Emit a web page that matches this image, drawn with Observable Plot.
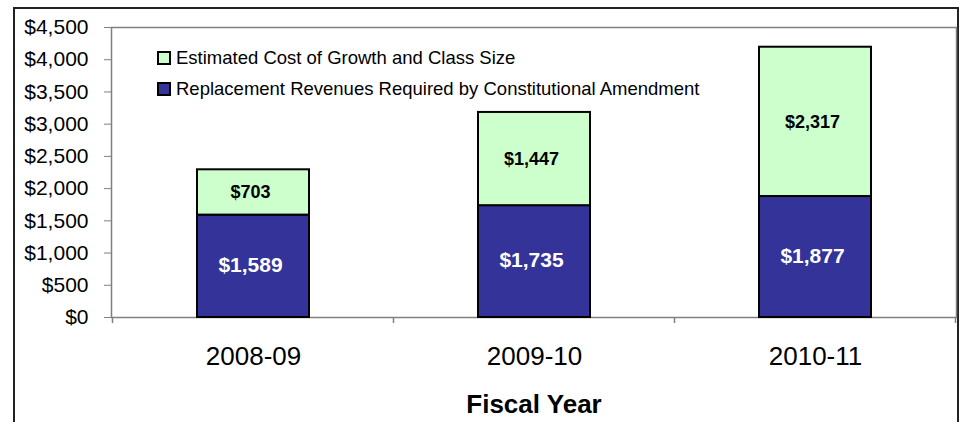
<!DOCTYPE html>
<html><head><meta charset="utf-8">
<script src="https://cdn.jsdelivr.net/npm/d3@7"></script>
<script src="https://cdn.jsdelivr.net/npm/@observablehq/plot@0.6"></script>
<style>
html,body{margin:0;padding:0;background:#fff;overflow:hidden;}
#wrap{position:relative;width:959px;height:422px;overflow:hidden;font-family:"Liberation Sans",Arial,sans-serif;}
#border{position:absolute;left:13px;top:7px;width:942px;height:440px;border:2px solid #222;pointer-events:none;}
#chart{position:absolute;left:0;top:0;}
#legend{position:absolute;left:157px;top:42px;font-size:18.5px;line-height:31px;color:#000;white-space:nowrap;}
.sw{display:inline-block;width:10px;height:10px;border:2px solid #000;margin-right:5px;vertical-align:-1px;}
g[aria-label="x-axis label"] text{font-weight:bold;}
</style></head><body>
<div id="wrap"><div id="border"></div><div id="chart"></div><div id="legend"></div></div>
<script>
const years = ["2008-09", "2009-10", "2010-11"];
const replacement = [1589, 1735, 1877];
const growth = [703, 1447, 2317];
const seriesNames = ["Replacement Revenues Required by Constitutional Amendment", "Estimated Cost of Growth and Class Size"];
const seriesColors = ["#333399", "#CCFFCC"];
const yTicks = [0, 500, 1000, 1500, 2000, 2500, 3000, 3500, 4000, 4500];
const legendOrder = [1, 0];

const rows = [];
years.forEach((y, i) => {
  rows.push({year: y, series: seriesNames[0], value: replacement[i]});
  rows.push({year: y, series: seriesNames[1], value: growth[i]});
});
const fmt = d3.format("$,");

const stackOpts = (extra) => Plot.stackY({x: "year", y: "value", z: "series", order: seriesNames, ...extra});

const plot = Plot.plot({
  width: 959, height: 422,
  marginLeft: 111, marginRight: 3, marginTop: 27, marginBottom: 105,
  style: {fontFamily: '"Liberation Sans", Arial, sans-serif', fontSize: "21px", color: "#000", background: "transparent", overflow: "visible"},
  x: {domain: years, paddingInner: 0.603, paddingOuter: 0.3},
  y: {domain: [0, 4500]},
  color: {domain: seriesNames, range: seriesColors},
  marks: [
    Plot.frame({stroke: "#808080", strokeWidth: 1.5}),
    Plot.barY(rows, Plot.stackY({x: "year", y: "value", fill: "series", order: seriesNames, stroke: "#000", strokeWidth: 2})),
    Plot.text(rows, Plot.filter(d => d.series === seriesNames[0], stackOpts({text: d => fmt(d.value), fill: "#fff", fontWeight: "bold", fontSize: 21, dx: -3, dy: -1}))),
    Plot.text(rows, Plot.filter(d => d.series === seriesNames[1], stackOpts({text: d => fmt(d.value), fill: "#000", fontWeight: "bold", fontSize: 18, dx: -3}))),
    Plot.axisY({ticks: yTicks, tickFormat: fmt, tickSize: 7, tickPadding: 16, stroke: "#808080", fill: "#000", fontSize: 21, label: null}),
    Plot.axisX({tickSize: 0, tickPadding: 29, fontSize: 26, fill: "#000", label: "Fiscal Year", labelAnchor: "center", labelArrow: "none", labelOffset: 95})
  ]
});
document.getElementById("chart").appendChild(plot);

// category boundary ticks on the x axis, from the library's band scale
const xs = plot.scale("x"), ys = plot.scale("y");
const y0 = ys.apply(0);
const bounds = years.map(c => xs.apply(c) + xs.bandwidth / 2 - xs.step / 2);
bounds.push(xs.apply(years[years.length - 1]) + xs.bandwidth / 2 + xs.step / 2);
d3.select(plot).append("g").selectAll("line").data(bounds).join("line")
  .attr("x1", d => d).attr("x2", d => d).attr("y1", y0).attr("y2", y0 + 6)
  .attr("stroke", "#808080").attr("stroke-width", 1.5);

const legend = d3.select("#legend");
legendOrder.forEach(i => {
  const row = legend.append("div");
  row.append("span").attr("class", "sw").style("background", seriesColors[i]);
  row.append("span").text(seriesNames[i]);
});
</script></body></html>
